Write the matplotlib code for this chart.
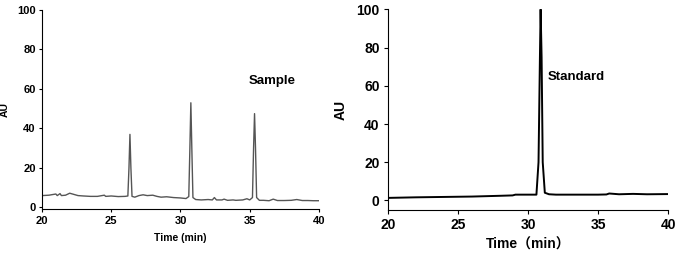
import matplotlib
matplotlib.use('Agg')
from matplotlib import pyplot as plt

# Chromatogramas leidos a ojo de la figura
t_muestra = [20.0, 20.5, 21.0, 21.1, 21.3, 21.4, 21.7, 22.0, 22.2, 22.6, 23.0, 23.5, 24.0,
             24.5, 24.6, 25.0, 25.5, 26.0, 26.2, 26.28, 26.35, 26.42, 26.5, 26.7, 27.0,
             27.3, 27.6, 28.0, 28.3, 28.6, 29.0, 29.5, 30.0, 30.4, 30.6, 30.68, 30.75,
             30.82, 30.9, 31.1, 31.5, 32.0, 32.3, 32.45, 32.6, 33.0, 33.15, 33.4, 33.8,
             34.0, 34.5, 34.8, 35.0, 35.2, 35.28, 35.35, 35.42, 35.5, 35.7, 36.0, 36.4,
             36.7, 37.0, 37.5, 38.0, 38.4, 38.8, 39.2, 39.6, 40.0]
au_muestra = [6.0, 6.2, 6.8, 6.0, 7.0, 6.0, 6.2, 7.2, 6.8, 6.0, 5.8, 5.6, 5.6,
              6.2, 5.6, 5.8, 5.5, 5.6, 5.8, 20.0, 37.0, 20.0, 5.6, 5.2, 6.0,
              6.4, 6.0, 6.2, 5.6, 5.2, 5.4, 5.0, 4.8, 4.5, 5.5, 30.0, 53.0,
              30.0, 5.0, 4.0, 3.8, 4.0, 3.8, 5.0, 3.8, 3.8, 4.2, 3.6, 3.8,
              3.6, 3.8, 4.4, 3.8, 5.0, 30.0, 47.5, 30.0, 5.0, 3.6, 3.6, 3.4,
              4.2, 3.5, 3.5, 3.6, 4.0, 3.5, 3.5, 3.4, 3.4]

t_patron = [20.0, 22.0, 24.0, 26.0, 28.0, 28.9, 29.1, 30.0, 30.6, 30.75, 30.85, 30.9,
            30.97, 31.05, 31.2, 31.5, 32.0, 33.0, 34.0, 35.0, 35.6, 35.8, 36.5, 37.5,
            38.5, 40.0]
au_patron = [1.3, 1.6, 1.8, 2.0, 2.4, 2.6, 3.0, 3.0, 3.0, 20.0, 75.0, 100.0,
             75.0, 20.0, 4.0, 3.2, 3.0, 3.0, 3.0, 3.0, 3.1, 3.6, 3.2, 3.4,
             3.2, 3.3]

xticks = [20, 25, 30, 35, 40]
yticks = [0, 20, 40, 60, 80, 100]

plt.rcParams['font.family'] = ['Liberation Sans', 'Noto Sans CJK SC', 'DejaVu Sans']

fig = plt.figure(figsize=(6.8, 2.56), dpi=100)

ax1 = fig.add_axes([0.0618, 0.182, 0.4072, 0.779])
ax1.plot(t_muestra, au_muestra, color='#555555', lw=1.0)
ax1.set_xlim(20, 40)
ax1.set_ylim(-1, 100)
ax1.set_xticks(xticks)
ax1.set_yticks(yticks)
ax1.tick_params(labelsize=8, length=2.5, width=0.8, pad=2)
for lab in ax1.get_xticklabels() + ax1.get_yticklabels():
    lab.set_fontweight('bold')
ax1.set_xlabel('Time (min)', fontsize=7.5, fontweight='bold', labelpad=5)
ax1.set_ylabel('AU', fontsize=7.5, fontweight='bold', labelpad=5)
ax1.text(36.6, 64, 'Sample', fontsize=9.5, fontweight='bold', ha='center', va='center')
for s in ['top', 'right']:
    ax1.spines[s].set_visible(False)

ax2 = fig.add_axes([0.5706, 0.180, 0.4118, 0.783])
ax2.plot(t_patron, au_patron, color='black', lw=1.4)
ax2.set_xlim(20, 40)
ax2.set_ylim(-5, 100)
ax2.set_xticks(xticks)
ax2.set_yticks(yticks)
ax2.tick_params(labelsize=10, length=3, width=0.8, pad=3)
for lab in ax2.get_xticklabels() + ax2.get_yticklabels():
    lab.set_fontweight('bold')
ax2.set_xlabel('Time（min）', fontsize=10, fontweight='bold', labelpad=4)
ax2.set_ylabel('AU', fontsize=10, fontweight='bold', labelpad=6)
ax2.text(31.4, 64.7, 'Standard', fontsize=9.5, fontweight='bold', ha='left', va='center')
for s in ['top', 'right']:
    ax2.spines[s].set_visible(False)

plt.savefig('out.png', dpi=100)
